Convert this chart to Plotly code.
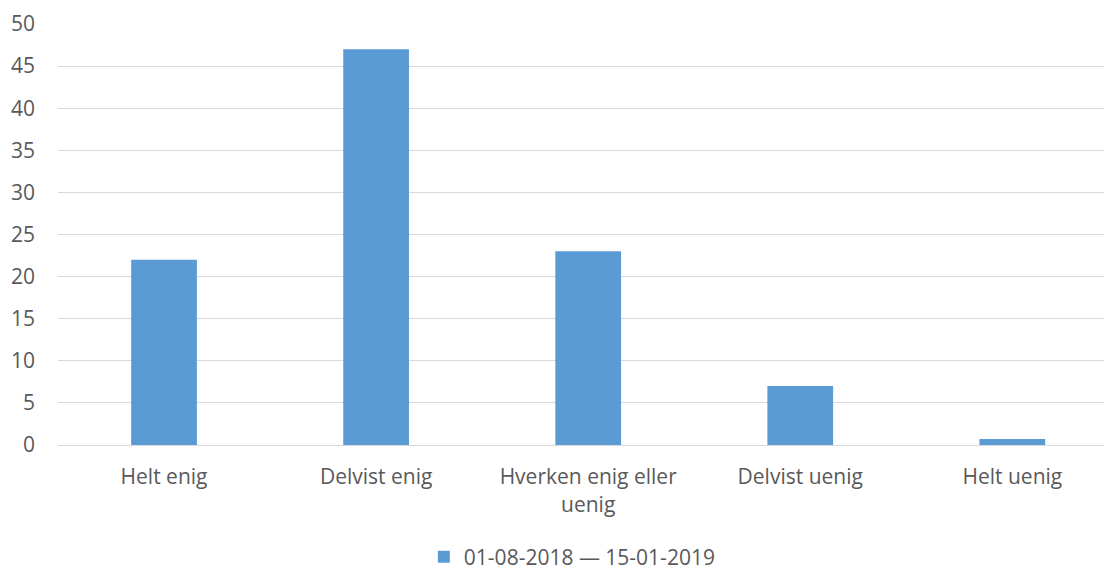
import plotly.graph_objects as go

# Survey answers (counts)
categories = ["Helt enig", "Delvist enig", "Hverken enig eller<br>uenig", "Delvist uenig", "Helt uenig"]
values = [22, 47, 23, 7, 0.7]
series_name = "01-08-2018 \u2014 15-01-2019"
y_ticks = [0, 5, 10, 15, 20, 25, 30, 35, 40, 45, 50]

fig = go.Figure()
fig.add_trace(go.Bar(x=categories, y=values, name=series_name,
                     marker=dict(color="#5B9BD5", line=dict(width=0)),
                     showlegend=True))

# page body adds 8px margin, so figure is a bit smaller than the window
fig.update_layout(
    width=1104, height=562,
    margin=dict(l=50, r=0, t=16, b=125, autoexpand=False),
    paper_bgcolor="white", plot_bgcolor="white",
    font=dict(family="Open Sans, Lato, sans-serif", size=21, color="#595959"),
    bargap=0.69,
    showlegend=True,
    legend=dict(orientation="h", x=0.488, xanchor="center", y=-0.266, yanchor="middle",
                itemwidth=30, font=dict(size=21, color="#595959")),
)
fig.update_xaxes(range=[-0.5, 4.47], showline=True, linecolor="#D9D9D9", linewidth=1,
                 showgrid=False, ticks="", ticklabelstandoff=13, automargin=False)
fig.update_yaxes(range=[0, 50], tickvals=y_ticks, showgrid=True, gridcolor="#D9D9D9",
                 gridwidth=1, zeroline=False, showline=False, ticks="",
                 ticklabelstandoff=22, automargin=False)

fig.write_html("out.html")
